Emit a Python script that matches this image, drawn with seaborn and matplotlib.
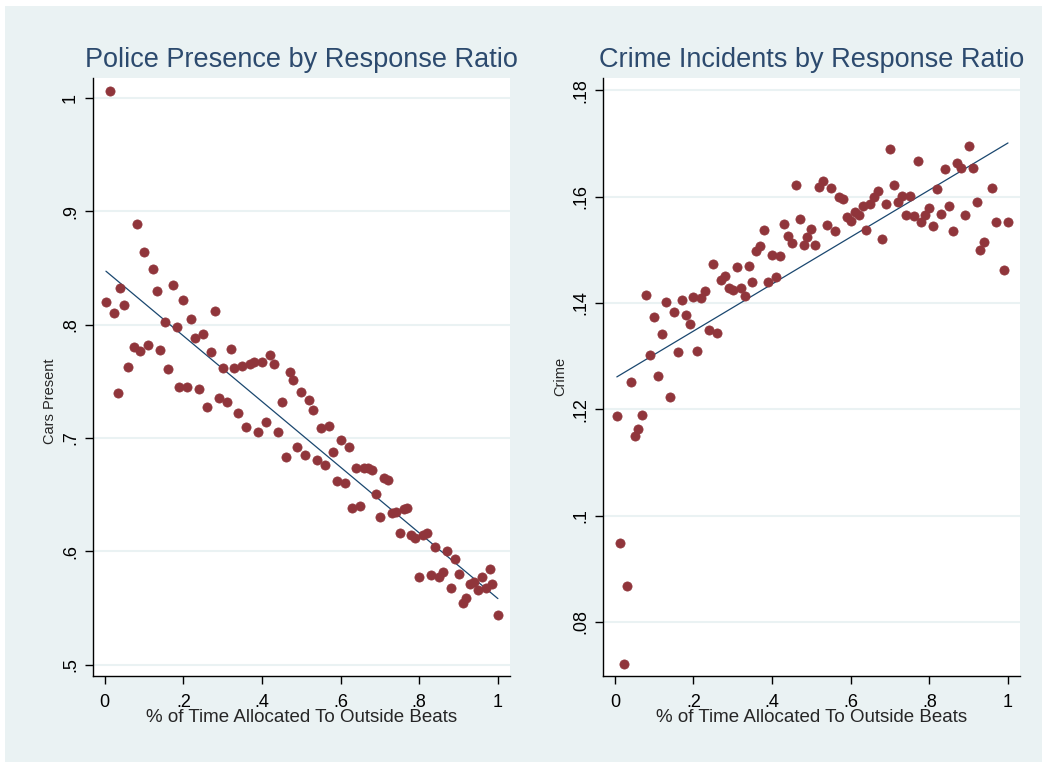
import matplotlib
matplotlib.use("Agg")
import matplotlib.pyplot as plt
import seaborn as sns
import pandas as pd

# share of time spent on outside beats vs. police cars present
police_x = [0.003, 0.013, 0.023, 0.033, 0.04, 0.05, 0.06, 0.074, 0.081, 0.09,
            0.10, 0.11, 0.122, 0.132, 0.14, 0.152, 0.162, 0.173, 0.183, 0.19,
            0.20, 0.21, 0.22, 0.23, 0.24, 0.25, 0.26, 0.27, 0.28, 0.29,
            0.30, 0.31, 0.32, 0.33, 0.34, 0.35, 0.36, 0.37, 0.38, 0.39,
            0.40, 0.41, 0.42, 0.43, 0.44, 0.45, 0.46, 0.47, 0.48, 0.49,
            0.50, 0.51, 0.52, 0.53, 0.54, 0.55, 0.56, 0.57, 0.58, 0.59,
            0.60, 0.61, 0.62, 0.63, 0.64, 0.65, 0.66, 0.67, 0.68, 0.69,
            0.70, 0.71, 0.72, 0.73, 0.74, 0.75, 0.76, 0.77, 0.78, 0.79,
            0.80, 0.81, 0.82, 0.83, 0.84, 0.85, 0.86, 0.87, 0.88, 0.89,
            0.90, 0.91, 0.92, 0.93, 0.94, 0.95, 0.96, 0.97, 0.98, 0.985,
            1.0]
police_y = [0.820, 1.006, 0.810, 0.740, 0.832, 0.817, 0.763, 0.780, 0.889, 0.777,
            0.864, 0.782, 0.849, 0.830, 0.778, 0.802, 0.761, 0.835, 0.798, 0.745,
            0.822, 0.745, 0.805, 0.788, 0.743, 0.792, 0.727, 0.776, 0.812, 0.735,
            0.762, 0.732, 0.779, 0.762, 0.722, 0.764, 0.710, 0.765, 0.767, 0.705,
            0.767, 0.714, 0.773, 0.765, 0.705, 0.732, 0.683, 0.758, 0.751, 0.692,
            0.741, 0.685, 0.734, 0.725, 0.681, 0.709, 0.676, 0.711, 0.688, 0.662,
            0.698, 0.660, 0.692, 0.638, 0.674, 0.640, 0.674, 0.674, 0.672, 0.651,
            0.630, 0.665, 0.663, 0.634, 0.635, 0.616, 0.637, 0.638, 0.614, 0.612,
            0.577, 0.614, 0.616, 0.579, 0.604, 0.577, 0.582, 0.600, 0.568, 0.593,
            0.580, 0.554, 0.559, 0.571, 0.573, 0.566, 0.577, 0.568, 0.584, 0.571,
            0.544]

# share of time spent on outside beats vs. crime incidents
crime_x = [0.005, 0.013, 0.023, 0.03, 0.04, 0.05, 0.06, 0.07, 0.08, 0.09,
           0.10, 0.11, 0.12, 0.13, 0.14, 0.15, 0.16, 0.17, 0.18, 0.19,
           0.20, 0.21, 0.22, 0.23, 0.24, 0.25, 0.26, 0.27, 0.28, 0.29,
           0.30, 0.31, 0.32, 0.33, 0.34, 0.35, 0.36, 0.37, 0.38, 0.39,
           0.40, 0.41, 0.42, 0.43, 0.44, 0.45, 0.46, 0.47, 0.48, 0.49,
           0.50, 0.51, 0.52, 0.53, 0.54, 0.55, 0.56, 0.57, 0.58, 0.59,
           0.60, 0.61, 0.62, 0.63, 0.64, 0.65, 0.66, 0.67, 0.68, 0.69,
           0.70, 0.71, 0.72, 0.73, 0.74, 0.75, 0.76, 0.77, 0.78, 0.79,
           0.80, 0.81, 0.82, 0.83, 0.84, 0.85, 0.86, 0.87, 0.88, 0.89,
           0.90, 0.91, 0.92, 0.93, 0.94, 0.96, 0.97, 0.99, 1.0]
crime_y = [0.1187, 0.0949, 0.0720, 0.0868, 0.1252, 0.1149, 0.1162, 0.1190, 0.1416, 0.1303,
           0.1373, 0.1262, 0.1341, 0.1401, 0.1224, 0.1384, 0.1307, 0.1405, 0.1377, 0.1360,
           0.1412, 0.1309, 0.1410, 0.1422, 0.1350, 0.1473, 0.1343, 0.1444, 0.1450, 0.1429,
           0.1425, 0.1467, 0.1429, 0.1414, 0.1469, 0.1439, 0.1497, 0.1508, 0.1538, 0.1439,
           0.1491, 0.1448, 0.1488, 0.1548, 0.1527, 0.1512, 0.1623, 0.1559, 0.1510, 0.1525,
           0.1540, 0.1510, 0.1619, 0.1629, 0.1546, 0.1617, 0.1535, 0.1599, 0.1595, 0.1561,
           0.1555, 0.1572, 0.1565, 0.1582, 0.1538, 0.1587, 0.1599, 0.1610, 0.1520, 0.1586,
           0.1689, 0.1623, 0.1591, 0.1601, 0.1565, 0.1602, 0.1563, 0.1668, 0.1553, 0.1565,
           0.1578, 0.1544, 0.1614, 0.1567, 0.1653, 0.1582, 0.1535, 0.1664, 0.1655, 0.1565,
           0.1695, 0.1655, 0.1591, 0.1499, 0.1514, 0.1617, 0.1552, 0.1463, 0.1552]

x_ticks = [0, 0.2, 0.4, 0.6, 0.8, 1.0]
x_tick_labels = ["0", ".2", ".4", ".6", ".8", "1"]
police_ticks = [0.5, 0.6, 0.7, 0.8, 0.9, 1.0]
police_tick_labels = [".5", ".6", ".7", ".8", ".9", "1"]
crime_ticks = [0.08, 0.10, 0.12, 0.14, 0.16, 0.18]
crime_tick_labels = [".08", ".1", ".12", ".14", ".16", ".18"]

police = pd.DataFrame({"share": police_x, "cars": police_y})
crime = pd.DataFrame({"share": crime_x, "crime": crime_y})

sns.set_style("ticks")
plt.rcParams["font.family"] = ["Liberation Sans", "DejaVu Sans"]

bg = "#EAF2F3"
dot = "#90353B"
navy = "#1A476F"

fig = plt.figure(figsize=(10.47, 7.68), dpi=100, facecolor="white")

# light graph region behind both panels, white margin round it
back = fig.add_axes([5 / 1047, 6 / 768, 1037 / 1047, 756 / 768], zorder=-10)
back.set_facecolor(bg)
back.set_xticks([])
back.set_yticks([])
for s in back.spines.values():
    s.set_visible(False)

ax1 = fig.add_axes([0.0888, 0.1198, 0.398, 0.779])
ax2 = fig.add_axes([0.576, 0.1198, 0.398, 0.779])

panels = [
    (ax1, police, "cars", "Police Presence by Response Ratio", "Cars Present",
     police_ticks, police_tick_labels, (0.490, 1.018), 0.46),
    (ax2, crime, "crime", "Crime Incidents by Response Ratio", "Crime",
     crime_ticks, crime_tick_labels, (0.0698, 0.1824), 0.50),
]

for ax, df, col, title, ylab, yt, ytl, ylim, ylab_y in panels:
    ax.set_facecolor("white")
    sns.regplot(data=df, x="share", y=col, ax=ax, ci=None,
                scatter_kws={"s": 44, "color": dot, "edgecolors": dot,
                             "linewidths": 0.5, "alpha": 1, "zorder": 3},
                line_kws={"color": navy, "lw": 0.9, "zorder": 2})
    ax.set_xlim(-0.03, 1.03)
    ax.set_ylim(*ylim)
    ax.set_xticks(x_ticks)
    ax.set_xticklabels(x_tick_labels)
    ax.set_yticks(yt)
    ax.set_yticklabels(ytl, rotation=90, va="center")
    ax.grid(axis="y", color=bg, lw=1.5)
    ax.grid(axis="x", visible=False)
    ax.set_axisbelow(True)
    for s in ["top", "right"]:
        ax.spines[s].set_visible(False)
    for s in ["left", "bottom"]:
        ax.spines[s].set_color("black")
        ax.spines[s].set_linewidth(1.0)
    ax.tick_params(axis="both", colors="black", labelsize=13, length=6, width=1)
    ax.tick_params(axis="x", pad=7)
    ax.tick_params(axis="y", pad=4)
    ax.set_title(title, fontsize=19.5, color="#2C4A6E", pad=8)
    ax.set_xlabel("% of Time Allocated To Outside Beats", fontsize=13.5)
    ax.xaxis.set_label_coords(0.5, -0.056)
    ax.set_ylabel(ylab, fontsize=10.5)
    ax.yaxis.set_label_coords(-0.086, ylab_y)

fig.savefig("out.png", dpi=100, facecolor="white")
